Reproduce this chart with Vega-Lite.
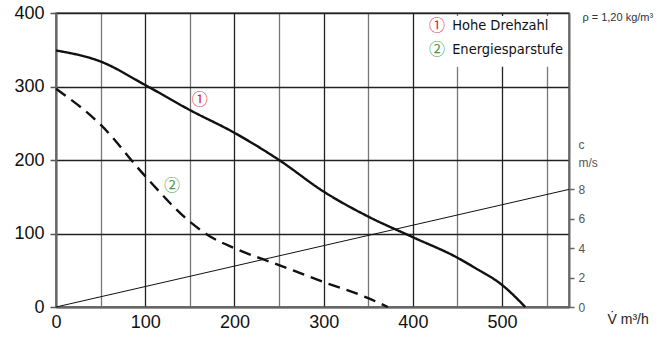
{
  "$schema": "https://vega.github.io/schema/vega-lite/v6.json",
  "width": 513,
  "height": 294,
  "autosize": "none",
  "padding": {"left": 56, "top": 13, "right": 89, "bottom": 31},
  "background": "white",
  "config": {
    "view": {"stroke": "#666", "strokeWidth": 1.5},
    "font": "Liberation Sans"
  },
  "datasets": {
    "curves": [
      {"q": 0, "p": 349, "s": "1"},
      {"q": 50, "p": 334, "s": "1"},
      {"q": 100, "p": 302, "s": "1"},
      {"q": 150, "p": 268, "s": "1"},
      {"q": 200, "p": 237, "s": "1"},
      {"q": 250, "p": 200, "s": "1"},
      {"q": 300, "p": 157, "s": "1"},
      {"q": 350, "p": 123, "s": "1"},
      {"q": 400, "p": 95, "s": "1"},
      {"q": 450, "p": 67, "s": "1"},
      {"q": 470, "p": 53, "s": "1"},
      {"q": 500, "p": 30, "s": "1"},
      {"q": 526, "p": 0, "s": "1"},
      {"q": 0, "p": 297, "s": "2"},
      {"q": 50, "p": 248, "s": "2"},
      {"q": 100, "p": 178, "s": "2"},
      {"q": 150, "p": 116, "s": "2"},
      {"q": 170, "p": 98, "s": "2"},
      {"q": 200, "p": 80, "s": "2"},
      {"q": 250, "p": 57, "s": "2"},
      {"q": 300, "p": 34, "s": "2"},
      {"q": 350, "p": 12, "s": "2"},
      {"q": 372, "p": 0, "s": "2"}
    ],
    "velocity": [
      {"q": 0, "c": 0},
      {"q": 575, "c": 8}
    ],
    "legendBox": [
      {"q": 416, "q2": 568, "p": 327, "p2": 396}
    ],
    "legendNums": [
      {"q": 427, "p": 382, "s": "1", "t": "①"},
      {"q": 427, "p": 350, "s": "2", "t": "②"}
    ],
    "legendTexts": [
      {"q": 444, "p": 382, "t": "Hohe Drehzahl"},
      {"q": 444, "p": 350, "t": "Energiesparstufe"}
    ],
    "curveNums": [
      {"q": 161, "p": 282, "s": "1", "t": "①"},
      {"q": 130, "p": 164, "s": "2", "t": "②"}
    ],
    "notes": [
      {"q": 590, "p": 393, "t": "ρ = 1,20 kg/m³"}
    ]
  },
  "layer": [
    {
      "layer": [
        {
          "data": {"name": "curves"},
          "mark": {"type": "line", "interpolate": "monotone", "color": "#111", "strokeWidth": 2.4},
          "encoding": {
            "x": {
              "field": "q", "type": "quantitative",
              "scale": {"domain": [0, 575], "nice": false},
              "axis": {
                "values": [0, 50, 100, 150, 200, 250, 300, 350, 400, 450, 500, 550],
                "labelExpr": "datum.value % 100 === 0 ? datum.label : ''",
                "ticks": false,
                "grid": true,
                "gridColor": {"condition": {"test": "datum.value % 100 === 0", "value": "#222"}, "value": "#777"},
                "gridWidth": 1.3,
                "gridOpacity": 1,
                "domainColor": "#666",
                "domainWidth": 2,
                "labelFontSize": 18,
                "labelColor": "#111",
                "labelPadding": 6,
                "labelFlush": false,
                "title": "V̇ m³/h",
                "titleFontSize": 14,
                "titleFontWeight": "normal",
                "titleColor": "#222",
                "titleAlign": "left",
                "titleBaseline": "alphabetic",
                "titleX": 551,
                "titleY": 16
              }
            },
            "y": {
              "field": "p", "type": "quantitative",
              "scale": {"domain": [0, 400], "nice": false},
              "axis": {
                "values": [0, 50, 100, 150, 200, 250, 300, 350, 400],
                "labelExpr": "datum.value % 100 === 0 ? datum.label : ''",
                "tickOpacity": {"condition": {"test": "datum.value % 100 === 0", "value": 1}, "value": 0},
                "tickColor": "#555",
                "tickSize": 6,
                "tickWidth": 1.5,
                "grid": true,
                "gridColor": {"condition": {"test": "datum.value % 100 === 0", "value": "#222"}, "value": "#777"},
                "gridWidth": 1.3,
                "gridOpacity": 1,
                "domainColor": "#666",
                "domainWidth": 2,
                "labelFontSize": 18,
                "labelColor": "#111",
                "labelPadding": 6,
                "labelFlush": false,
                "title": null
              }
            },
            "strokeDash": {
              "field": "s", "type": "nominal",
              "scale": {"domain": ["1", "2"], "range": [[1, 0], [12, 7]]},
              "legend": null
            }
          }
        },
        {
          "data": {"name": "legendBox"},
          "mark": {"type": "rect", "fill": "white", "stroke": null},
          "encoding": {
            "x": {"field": "q", "type": "quantitative"},
            "x2": {"field": "q2"},
            "y": {"field": "p", "type": "quantitative"},
            "y2": {"field": "p2"}
          }
        },
        {
          "data": {"name": "legendNums"},
          "mark": {"type": "text", "fontSize": 16, "align": "center", "baseline": "middle", "font": "Noto Sans CJK SC"},
          "encoding": {
            "x": {"field": "q", "type": "quantitative"},
            "y": {"field": "p", "type": "quantitative"},
            "text": {"field": "t"},
            "color": {"field": "s", "type": "nominal", "scale": {"domain": ["1", "2"], "range": ["#d7263d", "#4c9a4c"]}, "legend": null}
          }
        },
        {
          "data": {"name": "legendTexts"},
          "mark": {"type": "text", "fontSize": 14.5, "align": "left", "baseline": "middle", "font": "DejaVu Sans Condensed, Liberation Sans", "color": "#111"},
          "encoding": {
            "x": {"field": "q", "type": "quantitative"},
            "y": {"field": "p", "type": "quantitative"},
            "text": {"field": "t"}
          }
        },
        {
          "data": {"name": "curveNums"},
          "mark": {"type": "text", "fontSize": 16, "align": "center", "baseline": "middle", "font": "Noto Sans CJK SC"},
          "encoding": {
            "x": {"field": "q", "type": "quantitative"},
            "y": {"field": "p", "type": "quantitative"},
            "text": {"field": "t"},
            "color": {"field": "s", "type": "nominal", "scale": {"domain": ["1", "2"], "range": ["#d7263d", "#4c9a4c"]}, "legend": null}
          }
        },
        {
          "data": {"name": "notes"},
          "mark": {"type": "text", "fontSize": 11, "align": "left", "baseline": "middle", "color": "#333"},
          "encoding": {
            "x": {"field": "q", "type": "quantitative"},
            "y": {"field": "p", "type": "quantitative"},
            "text": {"field": "t"}
          }
        }
      ]
    },
    {
      "data": {"name": "velocity"},
      "mark": {"type": "line", "color": "#111", "strokeWidth": 1},
      "encoding": {
        "x": {"field": "q", "type": "quantitative"},
        "y": {
          "field": "c", "type": "quantitative",
          "scale": {"domain": [0, 20], "nice": false},
          "axis": {
            "orient": "right",
            "values": [0, 2, 4, 6, 8],
            "grid": false,
            "tickColor": "#666",
            "tickSize": 5,
            "tickWidth": 1.5,
            "domainColor": "#666",
            "domainWidth": 2,
            "labelFontSize": 12,
            "labelColor": "#555",
            "labelPadding": 4,
            "labelFlush": false,
            "title": ["c", "m/s"],
            "titleFontSize": 12,
            "titleFontWeight": "normal",
            "titleColor": "#555",
            "titleAngle": 0,
            "titleAlign": "left",
            "titleBaseline": "alphabetic",
            "titleX": 9,
            "titleY": 135,
            "titleLineHeight": 18
          }
        }
      }
    }
  ],
  "resolve": {"scale": {"y": "independent"}}
}
